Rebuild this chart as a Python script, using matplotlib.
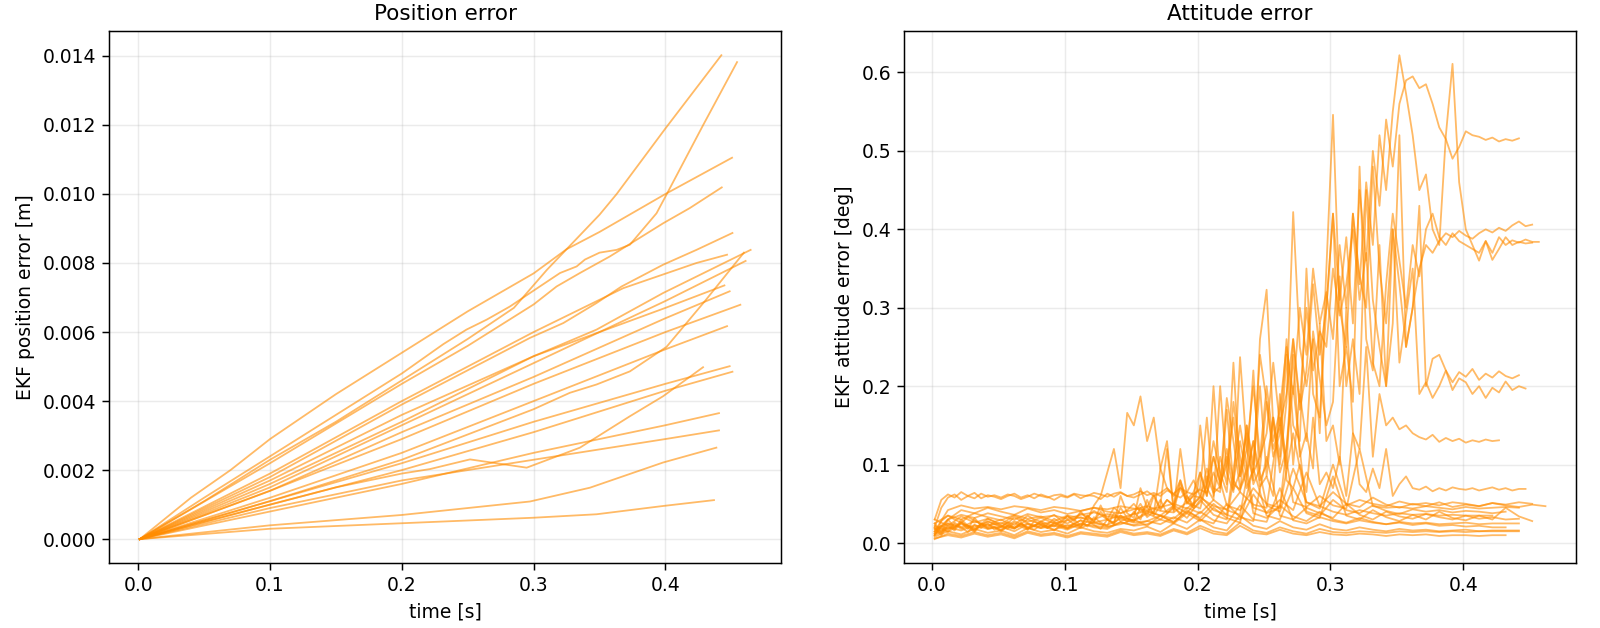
import numpy as np
import matplotlib

matplotlib.use("Agg")
import matplotlib.pyplot as plt

plt.rcParams.update(
    {
        "font.size": 13.5,
        "font.family": "DejaVu Sans",
        "axes.titlesize": 15.5,
        "axes.titlepad": 8.0,
        "axes.labelsize": 13.5,
        "axes.labelpad": 5.3,
        "xtick.labelsize": 13.5,
        "ytick.labelsize": 13.5,
        "axes.linewidth": 1.07,
        "xtick.major.size": 4.7,
        "ytick.major.size": 4.7,
        "xtick.major.pad": 4.7,
        "ytick.major.pad": 4.7,
        "xtick.major.width": 1.07,
        "ytick.major.width": 1.07,
        "grid.linewidth": 1.07,
        "grid.alpha": 0.25,
    }
)

LINE_COLOR = "darkorange"

# position error runs: time knots [s] and error [m]
POS_TIMES = [
    [.0012, .05, .1, .15, .2, .25, .285, .31, .325, .35, .363, .40, .4424],
    [.0012, .05, .1, .15, .2, .2315, .249, .2644, .282, .2972, .32, .3326, .3389, .35, .3629, .373, .3932, .402, .4285, .4543],
    [.0012, .04, .07, .1, .15, .2, .25, .3, .325, .35, .4, .4505],
    [.0012, .1, .2, .25, .3, .3174, .3351, .3578, .378, .3982, .4184, .4427],
    [.0012, .1, .2, .2972, .3225, .3477, .3667, .3982, .4235, .4508],
    [.0012, .1, .2, .3, .3679, .4235, .4467],
    [.0012, .1, .2, .3, .3477, .3982, .4646],
    [.0012, .1, .2, .3, .4, .4608],
    [.0012, .1, .2, .3, .4, .4447],
    [.0012, .1, .2, .3, .4, .4487],
    [.0012, .1, .2, .3, .4, .4568],
    [.0012, .1, .2, .3, .4, .4467],
    [.0012, .1, .2, .2997, .3275, .3477, .373, .4008, .43, .4595],
    [.0012, .05, .1, .15, .2, .2214, .2517, .2947, .3351, .373, .3982, .4285],
    [.0012, .1, .2, .3, .4, .4487],
    [.0012, .1, .2, .3, .4, .4508],
    [.0012, .1, .2, .3, .4, .4406],
    [.0012, .1, .2, .3, .4, .4406],
    [.0012, .1, .2, .2972, .3427, .3982, .4386],
    [.0012, .1, .2, .3, .3477, .3982, .4368],
]
POS_ERRORS = [
    [0, .0011, .0023, .0034, .0046, .0058, .0067, .0078, .0084, .0094, .0100, .0119, .01402],
    [0, .0012, .0024, .0036, .0048, .00565, .00607, .00636, .00674, .00713, .00771, .0079, .0081, .0083, .00838, .00853, .00944, .01007, .01199, .01382],
    [0, .0012, .0020, .0029, .0042, .0054, .0066, .0077, .0084, .0089, .0100, .01105],
    [0, .0022, .0045, .0056, .0068, .00732, .00771, .00819, .00867, .00915, .00959, .01019],
    [0, .0018, .0039, .00583, .00626, .00684, .00732, .00795, .00838, .00887],
    [0, .0019, .0040, .0060, .00727, .0080, .00824],
    [0, .0016, .0034, .0053, .00607, .00713, .00838],
    [0, .0015, .0033, .0051, .0069, .00806],
    [0, .0017, .0036, .0053, .0067, .00735],
    [0, .0014, .0031, .0047, .0064, .00718],
    [0, .0014, .0029, .0045, .0060, .00679],
    [0, .0012, .0025, .0040, .0055, .00617],
    [0, .0011, .0023, .00376, .00424, .00448, .00486, .00557, .0069, .0083],
    [0, .0005, .0010, .0015, .0019, .00203, .00231, .00207, .00265, .00356, .00414, .00498],
    [0, .0011, .0022, .0034, .0045, .00501],
    [0, .0010, .0020, .0031, .0043, .00485],
    [0, .0008, .0016, .0025, .0033, .00365],
    [0, .0009, .0017, .0023, .0029, .00315],
    [0, .0004, .0007, .00109, .00149, .00222, .00265],
    [0, .0003, .00046, .00062, .00072, .00096, .00113],
]

# attitude error runs, sampled from ATT_T0, values in millidegrees
ATT_T0 = 0.002
ATT_DT_FINE = 0.005
ATT_DT_COARSE = 0.01

ATT_FINE_MDEG = [
    [10, 28, 35, 30, 26, 33, 29, 24, 31, 27,
     30, 25, 33, 28, 35, 30, 27, 32, 36, 29,
     34, 30, 38, 33, 41, 36, 30, 45, 38, 42,
     50, 40, 46, 62, 44, 55, 48, 70, 52, 60,
     58, 85, 64, 72, 110, 68, 90, 140, 75, 95,
     180, 120, 150, 95, 260, 170, 220, 330, 240, 300,
     420, 310, 390, 280, 450, 360, 500, 430, 540, 480,
     560, 590, 595, 580, 585, 560, 530, 515, 490, 505,
     525, 520, 518, 514, 517, 512, 515, 513, 516],
    [20, 12, 25, 18, 30, 22, 16, 24, 20, 27,
     22, 18, 26, 21, 17, 28, 23, 19, 25, 22,
     30, 24, 20, 35, 27, 48, 30, 25, 60, 38,
     32, 70, 45, 38, 95, 130, 42, 120, 60, 48,
     150, 70, 55, 200, 90, 65, 237, 120, 80, 260,
     323, 150, 100, 180, 422, 250, 200, 260, 140, 350,
     546, 300, 250, 420, 330, 460, 380, 520, 450, 550,
     622, 573, 520, 450, 470, 400, 380, 520, 611, 460,
     400, 380, 360, 385, 370, 390, 380, 386, 383, 387, 384, 384],
    [30, 55, 62, 58, 65, 60, 57, 63, 59, 61,
     58, 62, 60, 56, 59, 63, 60, 58, 61, 62,
     59, 63, 61, 60, 64, 62, 59, 63, 65, 60,
     62, 66, 61, 64, 60, 67, 63, 70, 65, 62,
     68, 64, 90, 70, 120, 80, 65, 150, 90, 110,
     200, 130, 170, 250, 190, 300, 240, 350, 280, 320,
     260, 380, 300, 420, 340, 300, 480, 350, 280, 400,
     330, 250, 300, 350, 380, 370, 385, 395, 390, 398,
     392, 388, 395, 400, 396, 402, 398, 405, 410, 404, 406],
    [15, 22, 18, 26, 20, 14, 23, 19, 25, 17,
     21, 26, 19, 24, 18, 22, 27, 20, 16, 23,
     19, 25, 21, 28, 23, 18, 30, 24, 35, 27,
     40, 30, 55, 35, 48, 120, 40, 75, 52, 45,
     90, 60, 200, 75, 100, 160, 85, 120, 200, 110,
     140, 230, 150, 190, 260, 180, 300, 220, 270, 250,
     350, 290, 330, 400, 310, 370, 230, 200, 330, 420,
     360, 300, 380, 340, 400, 420, 390, 380, 395, 385,
     380, 375, 370, 385, 361, 375, 390, 380, 384, 382, 383],
    [12, 20, 15, 24, 18, 22, 16, 25, 19, 21,
     17, 23, 20, 26, 18, 22, 19, 24, 21, 28,
     25, 30, 22, 35, 28, 40, 30, 26, 45, 32,
     38, 50, 35, 60, 42, 55, 48, 80, 50, 62,
     70, 160, 60, 110, 75, 230, 85, 150, 100, 240,
     180, 110, 140, 260, 150, 130, 350, 190, 160, 300,
     420, 200, 250, 180, 480, 260, 220, 380, 200, 280,
     520, 250, 300, 430, 200, 235, 240, 220, 205, 218,
     212, 222, 208, 216, 211, 219, 213, 210, 214],
    [18, 10, 22, 16, 27, 20, 14, 24, 18, 20,
     15, 21, 18, 25, 20, 17, 23, 19, 26, 22,
     18, 24, 29, 21, 33, 26, 22, 38, 28, 31,
     27, 45, 33, 40, 55, 38, 47, 36, 60, 44,
     52, 75, 130, 90, 65, 180, 110, 70, 95, 200,
     85, 160, 110, 240, 100, 190, 130, 270, 210, 150,
     180, 340, 200, 260, 190, 450, 310, 250, 200, 400,
     230, 290, 350, 190, 205, 185, 200, 220, 195, 210,
     205, 190, 200, 185, 198, 192, 206, 195, 200, 197],
    [25, 14, 30, 20, 26, 18, 32, 22, 28, 24,
     20, 27, 23, 30, 25, 21, 28, 24, 31, 26,
     35, 28, 40, 30, 48, 60, 90, 120, 70, 166,
     150, 187, 130, 160, 95, 70, 60, 80, 55, 65,
     90, 60, 110, 75, 185, 130, 70, 95, 220, 80,
     100, 160, 90, 120, 240, 110, 140, 95, 280, 130,
     150, 100, 300, 140, 120, 250, 110, 190, 150, 160,
     145, 150, 140, 135, 132, 138, 129, 134, 130, 133,
     128, 131, 129, 132, 130, 131],
    [20, 45, 58, 62, 55, 60, 64, 57, 61, 59,
     56, 60, 63, 58, 61, 57, 62, 59, 55, 60,
     58, 62, 57, 61, 60, 56, 63, 59, 64, 60,
     58, 62, 66, 60, 64, 70, 62, 58, 65, 80,
     60, 95, 70, 65, 170, 75, 68, 90, 130, 72,
     85, 60, 190, 80, 70, 100, 65, 160, 75, 90,
     70, 110, 60, 140, 75, 65, 95, 70, 120, 60,
     75, 85, 70, 68, 72, 66, 70, 67, 71, 69,
     68, 70, 67, 69, 71, 68, 70, 67, 69, 69],
]

ATT_COARSE_MDEG = [
    [10, 30, 42, 38, 45, 40, 36, 44, 39, 42, 37, 41, 45, 40, 38, 43, 47, 41, 39, 52,
     44, 110, 48, 42, 70, 50, 45, 140, 52, 47, 65, 50, 46, 58, 49, 45, 50, 47, 52, 46,
     49, 47, 51, 48, 46, 49, 47],
    [25, 35, 30, 38, 33, 29, 36, 31, 34, 28, 35, 32, 30, 37, 33, 29, 40, 35, 31, 45,
     38, 55, 42, 36, 130, 48, 40, 95, 52, 44, 100, 48, 55, 50, 47, 53, 49, 51, 48, 52,
     50, 47, 51, 49, 52, 50],
    [15, 42, 48, 44, 46, 43, 47, 45, 42, 46, 44, 41, 45, 43, 47, 44, 42, 46, 50, 44,
     58, 47, 43, 65, 49, 45, 160, 52, 46, 60, 48, 44, 120, 47, 45, 46, 44, 47, 45, 43,
     46, 44, 45, 46, 45],
    [18, 25, 20, 28, 22, 26, 19, 30, 24, 27, 21, 29, 25, 23, 31, 26, 28, 35, 27, 40,
     32, 50, 36, 30, 62, 38, 45, 200, 40, 35, 55, 42, 38, 48, 41, 37, 43, 40, 42, 39,
     41, 40, 38, 40],
    [12, 20, 16, 23, 18, 21, 15, 24, 19, 22, 17, 25, 20, 18, 27, 22, 24, 30, 25, 38,
     28, 45, 32, 26, 95, 35, 30, 70, 38, 32, 85, 35, 30, 42, 33, 28, 36, 30, 40, 32,
     29, 35, 30, 45, 34, 28],
    [22, 14, 26, 18, 24, 16, 28, 20, 25, 17, 23, 19, 27, 21, 24, 30, 22, 35, 26, 42,
     30, 25, 50, 33, 28, 110, 35, 30, 45, 38, 32, 50, 36, 30, 40, 34, 31, 37, 33, 30,
     35, 31, 33, 30, 31],
    [8, 15, 11, 18, 13, 16, 10, 19, 14, 17, 12, 20, 15, 13, 18, 16, 21, 14, 25, 18,
     30, 20, 16, 35, 22, 18, 28, 20, 17, 24, 18, 16, 20, 17, 15, 18, 16, 17, 15, 16,
     17, 15, 16, 16, 16],
    [5, 12, 9, 14, 10, 13, 8, 15, 11, 13, 9, 14, 12, 10, 16, 12, 14, 11, 18, 13,
     22, 15, 12, 26, 16, 13, 20, 15, 12, 18, 14, 13, 15, 14, 13, 15, 14, 15, 14, 15,
     14, 15, 15, 15, 15],
    [6, 10, 7, 12, 8, 11, 6, 13, 9, 11, 7, 12, 10, 8, 14, 10, 12, 9, 16, 11,
     19, 12, 10, 22, 13, 11, 17, 12, 10, 14, 11, 10, 12, 11, 9, 11, 10, 11, 9, 10,
     10, 9, 10, 10],
    [30, 22, 34, 26, 31, 24, 35, 27, 32, 25, 29, 33, 26, 30, 35, 28, 38, 30, 45, 32,
     55, 36, 30, 130, 38, 32, 48, 34, 28, 40, 30, 26, 32, 27, 24, 26, 23, 25, 22, 23,
     21, 22, 20, 20],
    [14, 30, 36, 32, 38, 34, 30, 37, 33, 35, 31, 36, 39, 34, 32, 37, 41, 35, 48, 38,
     60, 42, 36, 150, 45, 39, 55, 42, 90, 47, 40, 36, 42, 38, 35, 38, 36, 37, 35, 36,
     35, 35, 35],
    [10, 18, 24, 20, 27, 22, 19, 25, 21, 23, 19, 24, 22, 20, 26, 23, 28, 24, 33, 26,
     40, 29, 25, 48, 30, 27, 70, 29, 25, 33, 28, 25, 29, 26, 24, 27, 25, 26, 24, 25,
     26, 24, 25, 25, 25],
]


def main():
    fig, (ax_pos, ax_att) = plt.subplots(1, 2, figsize=(16, 6.28), dpi=100)
    fig.subplots_adjust(left=0.0683, right=0.985, bottom=0.103, top=0.9506, wspace=0.183)

    for t, err in zip(POS_TIMES, POS_ERRORS):
        ax_pos.plot(t, err, color=LINE_COLOR, alpha=0.6, linewidth=1.3)
    ax_pos.set_title("Position error")
    ax_pos.set_xlabel("time [s]")
    ax_pos.set_ylabel("EKF position error [m]")
    ax_pos.grid(True)

    att_runs = [(ATT_DT_FINE, v) for v in ATT_FINE_MDEG]
    att_runs += [(ATT_DT_COARSE, v) for v in ATT_COARSE_MDEG]
    for dt, vals in att_runs:
        t = ATT_T0 + dt * np.arange(len(vals))
        ax_att.plot(t, np.array(vals) / 1000.0, color=LINE_COLOR, alpha=0.6, linewidth=1.3)
    ax_att.set_title("Attitude error")
    ax_att.set_xlabel("time [s]")
    ax_att.set_ylabel("EKF attitude error [deg]")
    ax_att.grid(True)

    fig.savefig("out.png", dpi=100, facecolor="white")
    plt.close(fig)


if __name__ == "__main__":
    main()
